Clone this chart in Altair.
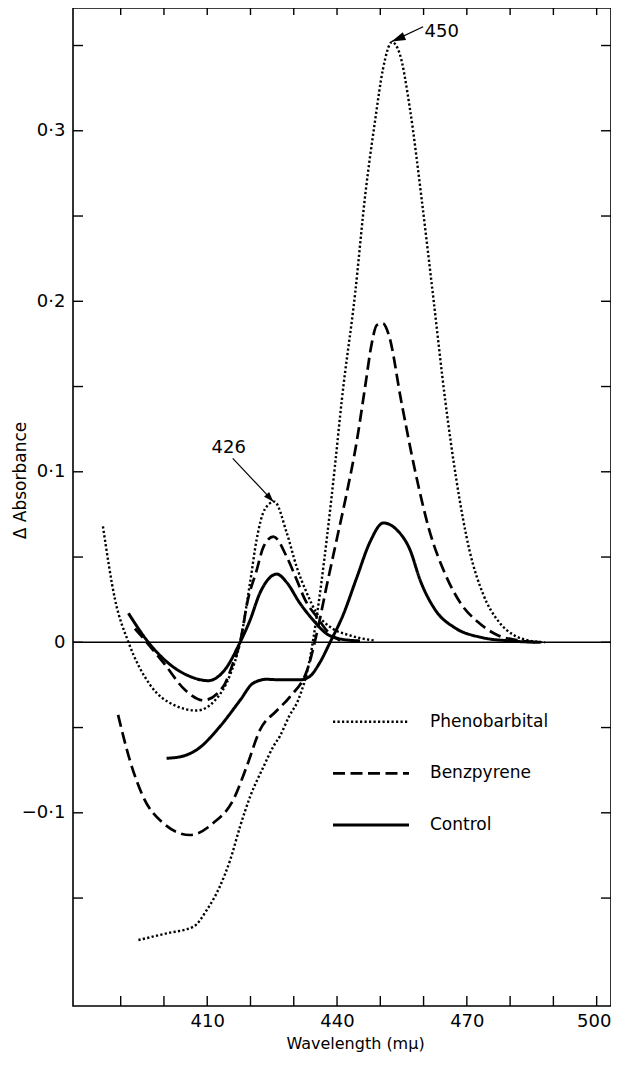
import altair as alt
import pandas as pd

# ---------------- data (wavelength in m\u03bc, delta absorbance) ----------------
treatments = ["Phenobarbital", "Benzpyrene", "Control"]

pheno_426_x = [385.9, 388.7, 391.8, 396.8, 402.5, 407.6, 411.8, 415.3, 417.6, 419.9, 421.4,
               423.3, 425.5, 428.4, 430.7, 433.0, 435.3, 438.4, 443.0, 448.8]
pheno_426_y = [0.068, 0.025, 0.0, -0.025, -0.037, -0.040, -0.034, -0.019, 0.0, 0.035, 0.060,
               0.078, 0.0825, 0.064, 0.044, 0.029, 0.017, 0.009, 0.004, 0.001]

pheno_450_x = [394.1, 400.6, 406.8, 409.9, 412.9, 415.3, 417.6, 419.9, 423.0, 425.3, 426.8,
               429.0, 431.0, 433.7, 435.3, 437.6, 439.5, 441.1, 444.2, 446.5, 448.8, 450.6,
               452.7, 454.5, 456.9, 459.6, 462.3, 465.0, 467.6, 470.6, 473.8, 477.4, 481.0,
               484.5, 488.0]
pheno_450_y = [-0.1746, -0.1707, -0.1668, -0.157, -0.1433, -0.1277, -0.108, -0.0906, -0.073,
               -0.061, -0.055, -0.043, -0.034, -0.010, 0.015, 0.060, 0.103, 0.142, 0.205,
               0.262, 0.306, 0.336, 0.352, 0.345, 0.312, 0.259, 0.201, 0.142, 0.095, 0.054,
               0.028, 0.012, 0.004, 0.001, 0.0]

benz_426_x = [393.3, 396.0, 400.2, 404.9, 409.1, 413.7, 416.0, 417.6, 419.4, 421.4, 423.0,
              425.3, 428.4, 430.7, 432.6, 435.3, 437.6, 440.7]
benz_426_y = [0.008, 0.0, -0.013, -0.028, -0.034, -0.026, -0.012, 0.0, 0.025, 0.042, 0.056,
              0.062, 0.050, 0.0365, 0.025, 0.015, 0.007, 0.001]

benz_450_x = [389.4, 392.1, 395.2, 399.8, 406.0, 411.4, 416.0, 419.1, 422.2, 426.1, 429.1,
              433.4, 435.3, 437.6, 439.9, 442.2, 444.5, 446.5, 448.0, 449.2, 450.6, 452.0,
              454.8, 458.0, 461.3, 465.0, 468.8, 472.5, 477.0, 481.5, 486.0]
benz_450_y = [-0.0426, -0.069, -0.0906, -0.106, -0.113, -0.106, -0.0925, -0.073, -0.0514,
              -0.040, -0.032, -0.014, 0.005, 0.033, 0.060, 0.087, 0.117, 0.150, 0.175, 0.186,
              0.187, 0.180, 0.142, 0.101, 0.066, 0.040, 0.022, 0.012, 0.0043, 0.0013, 0.0]

ctrl_426_x = [391.8, 396.4, 401.4, 406.0, 410.2, 414.1, 417.6, 419.9, 422.2, 426.1, 428.4,
              431.4, 434.5, 437.6, 440.7, 445.3]
ctrl_426_y = [0.017, 0.0, -0.013, -0.020, -0.0225, -0.016, 0.0, 0.013, 0.029, 0.040, 0.035,
              0.023, 0.013, 0.005, 0.002, 0.0008]

ctrl_450_x = [400.6, 404.0, 407.6, 412.9, 417.6, 420.6, 423.7, 426.8, 431.4, 433.7, 436.0,
              438.4, 441.4, 444.5, 447.6, 450.7, 453.8, 456.9, 459.2, 462.7, 467.3, 473.1,
              480.0, 487.0]
ctrl_450_y = [-0.068, -0.067, -0.063, -0.0495, -0.034, -0.024, -0.0217, -0.022, -0.022,
              -0.020, -0.012, 0.0, 0.016, 0.0375, 0.0587, 0.070, 0.066, 0.054, 0.0365, 0.019,
              0.0084, 0.003, 0.0008, 0.0]

x_ticks = [390, 400, 410, 420, 430, 440, 450, 460, 470, 480, 490, 500]
x_labels = [410, 440, 470, 500]
y_ticks = [-0.15, -0.1, -0.05, 0, 0.05, 0.1, 0.15, 0.2, 0.25, 0.3, 0.35]
y_labels = [-0.1, 0, 0.1, 0.2, 0.3]

ann_label = ["426", "450"]
ann_text_x = [414.96, 464.2]
ann_text_y = [0.114, 0.358]
ann_tail_x = [415.9, 459.9]
ann_tail_y = [0.1079, 0.361]
ann_tip_x = [425.3, 452.6]
ann_tip_y = [0.0825, 0.3523]

# ---------------- build table ----------------
series = [
    ("Phenobarbital", "p426", pheno_426_x, pheno_426_y),
    ("Phenobarbital", "p450", pheno_450_x, pheno_450_y),
    ("Benzpyrene", "b426", benz_426_x, benz_426_y),
    ("Benzpyrene", "b450", benz_450_x, benz_450_y),
    ("Control", "c426", ctrl_426_x, ctrl_426_y),
    ("Control", "c450", ctrl_450_x, ctrl_450_y),
]
rows = []
for name, cid, xs_, ys_ in series:
    for i, (a, b) in enumerate(zip(xs_, ys_)):
        rows.append({"treatment": name, "curve": cid, "wl": a, "dA": b, "ord": i})
df = pd.DataFrame(rows)

ann = pd.DataFrame({"label": ann_label, "tx": ann_text_x, "ty": ann_text_y,
                    "x0": ann_tail_x, "y0": ann_tail_y, "x1": ann_tip_x, "y1": ann_tip_y})

W, H = 538, 998
FONT = "DejaVu Sans"
PXU = 4.327  # pixels per m\u03bc in the reference
x_lo = 378.98
xscale = alt.Scale(domain=[x_lo, x_lo + W / PXU], nice=False, zero=False)
yscale = alt.Scale(domain=[-0.2133, 0.372], nice=False, zero=False)
dash_scale = alt.Scale(domain=treatments, range=[[2.2, 2.3], [12, 5.5], [1, 0]])
width_scale = alt.Scale(domain=treatments, range=[2.4, 3.0, 2.6])

XAX = alt.Axis(values=x_labels, title="Wavelength (m\u03bc)", ticks=False, tickSize=0,
               domain=False, grid=False, labelFontSize=18, labelPadding=6,
               labelFont=FONT, labelColor="black", titleFont=FONT,
               titleFontSize=16, titleFontWeight="normal", titleColor="black",
               titleX=282, titleY=37, titleBaseline="middle", labelFlush=False,
               labelOffset={"condition": {"test": "datum.value === 500", "value": -3}, "value": 0})
YAX = alt.Axis(values=y_labels, title="\u0394 Absorbance", ticks=False, tickSize=0,
               domain=False, grid=False, labelFontSize=18, labelPadding=8,
               labelFont=FONT, labelColor="black", titleFont=FONT,
               titleFontSize=17, titleFontWeight="normal", titleColor="black",
               titleX=-53, titleY=472, titleBaseline="middle", labelFlush=False,
               labelExpr="datum.value == 0 ? '0' : replace(format(datum.value, '.1f'), '.', '\u00b7')")


def X(f):
    return alt.X(f, scale=xscale, axis=XAX)


def Y(f):
    return alt.Y(f, scale=yscale, axis=YAX)


lines = alt.Chart(df).mark_line(interpolate="monotone", color="black", strokeCap="butt").encode(
    x=X("wl:Q"),
    y=Y("dA:Q"),
    strokeDash=alt.StrokeDash("treatment:N", scale=dash_scale, legend=None),
    strokeWidth=alt.StrokeWidth("treatment:N", scale=width_scale, legend=None),
    detail="curve:N",
    order="ord:Q",
)

zero_line = alt.Chart(pd.DataFrame({"v": [0]})).mark_rule(color="black", strokeWidth=1.6).encode(
    y=Y("v:Q"))

xt = alt.Chart(pd.DataFrame({"v": x_ticks})).mark_rule(color="black", strokeWidth=1.4)
yt = alt.Chart(pd.DataFrame({"v": y_ticks})).mark_rule(color="black", strokeWidth=1.4)
bottom_ticks = xt.encode(x=X("v:Q"), y=alt.value(H), y2=alt.value(H - 10))
top_ticks = xt.encode(x=X("v:Q"), y=alt.value(0), y2=alt.value(7))
left_ticks = yt.encode(y=Y("v:Q"), x=alt.value(0), x2=alt.value(10))
right_ticks = yt.encode(y=Y("v:Q"), x=alt.value(W), x2=alt.value(W - 10))

ann_text = alt.Chart(ann).mark_text(font=FONT, fontSize=18, color="black",
                                    align="center", baseline="middle").encode(
    x=X("tx:Q"), y=Y("ty:Q"), text="label:N")
ann_shaft = alt.Chart(ann).mark_rule(color="black", strokeWidth=1.2).encode(
    x=X("x0:Q"), y=Y("y0:Q"), x2="x1:Q", y2="y1:Q")
head_426 = alt.Chart(ann[ann.label == "426"]).mark_point(
    shape="M0,0 L-0.35,-1 L0.35,-1 Z", size=400, angle=316.9, filled=True,
    color="black", opacity=1, strokeWidth=0).encode(x=X("x1:Q"), y=Y("y1:Q"))
head_450 = alt.Chart(ann[ann.label == "450"]).mark_point(
    shape="M0,0 L-0.3,-1 L0.3,-1 Z", size=784, angle=67, filled=True,
    color="black", opacity=1, strokeWidth=0).encode(x=X("x1:Q"), y=Y("y1:Q"))

legend_layers = []
for i, name in enumerate(treatments):
    yy = 713.7 + i * 51.7
    src = alt.Chart(alt.Data(values=[{"treatment": name}]))
    legend_layers.append(src.mark_rule(color="black", strokeCap="butt").encode(
        x=alt.value(260), x2=alt.value(336), y=alt.value(yy),
        strokeDash=alt.StrokeDash("treatment:N", scale=dash_scale, legend=None),
        strokeWidth=alt.StrokeWidth("treatment:N", scale=width_scale, legend=None)))
    legend_layers.append(src.mark_text(font=FONT, fontSize=17, color="black",
                                       align="left", baseline="middle").encode(
        x=alt.value(357), y=alt.value(yy), text="treatment:N"))

chart = alt.layer(
    lines, zero_line, bottom_ticks, top_ticks, left_ticks, right_ticks,
    ann_shaft, head_426, head_450, ann_text, *legend_layers
).properties(
    width=W, height=H,
    autosize=alt.AutoSizeParams(type="none"),
    padding={"left": 65, "top": 0, "right": 0, "bottom": 46},
).configure_view(stroke="black", strokeWidth=1.6)

chart.save("out.html", embed_options={"renderer": "svg", "actions": False})
